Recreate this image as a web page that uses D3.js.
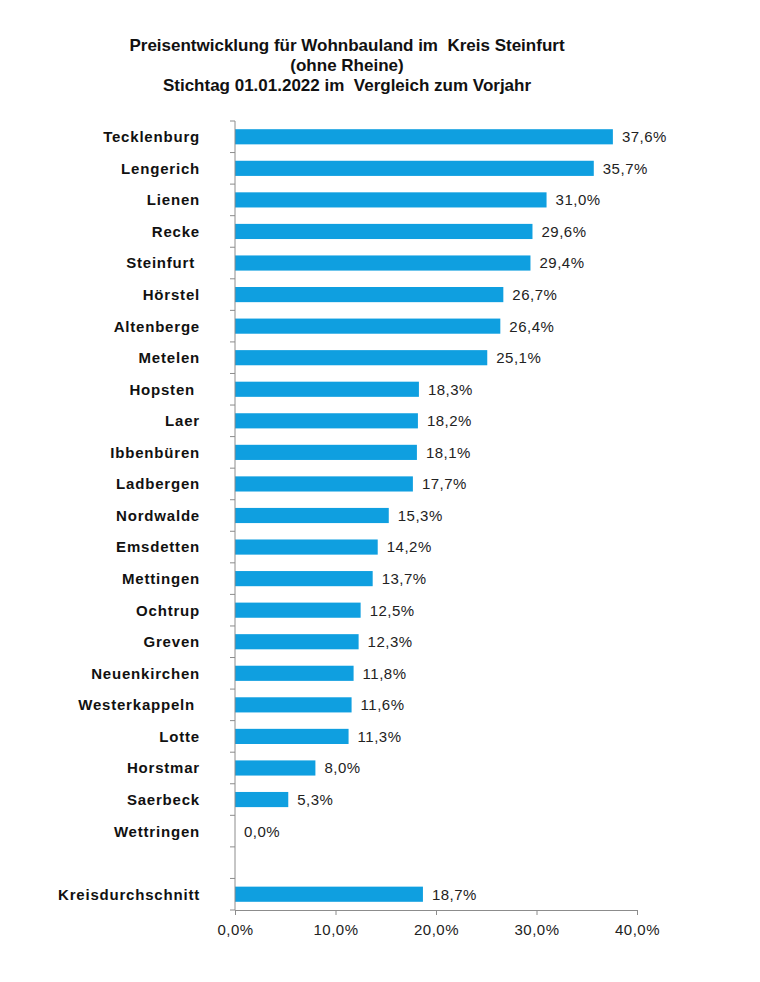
<!DOCTYPE html>
<html>
<head>
<meta charset="utf-8">
<script src="https://cdn.jsdelivr.net/npm/d3@7/dist/d3.min.js"></script>
<style>
  body { margin: 0; background: #fff; }
  svg { display: block; }
</style>
</head>
<body>
<div id="chart"></div>
<script>
// Preisentwicklung Wohnbauland, Kreis Steinfurt

var titleLines = [
    "Preisentwicklung für Wohnbauland im  Kreis Steinfurt",
    "(ohne Rheine)",
    "Stichtag 01.01.2022 im  Vergleich zum Vorjahr"
];

// some names carry a trailing blank in the source
var categories = [
    "Tecklenburg", "Lengerich", "Lienen", "Recke", "Steinfurt ", "Hörstel",
    "Altenberge", "Metelen", "Hopsten ", "Laer", "Ibbenbüren", "Ladbergen",
    "Nordwalde", "Emsdetten", "Mettingen", "Ochtrup", "Greven", "Neuenkirchen",
    "Westerkappeln ", "Lotte", "Horstmar", "Saerbeck", "Wettringen", "",
    "Kreisdurchschnitt"
];

var values = [
    37.6, 35.7, 31.0, 29.6, 29.4, 26.7,
    26.4, 25.1, 18.3, 18.2, 18.1, 17.7,
    15.3, 14.2, 13.7, 12.5, 12.3, 11.8,
    11.6, 11.3, 8.0, 5.3, 0.0, null,
    18.7
];

var xTicks = [0, 10, 20, 30, 40];

var width = 760, height = 982;
var margin = { left: 235, right: 123, top: 121, bottom: 72 };
var font = "Liberation Sans, Arial, sans-serif";

var svg = d3.select("#chart").append("svg")
    .attr("width", width)
    .attr("height", height);

// title
svg.append("g").attr("class", "title")
    .selectAll("text")
    .data(titleLines)
    .enter()
    .append("text")
    .attr("x", 347)
    .attr("y", function(d, i) {
        return 51 + i * 20;
    })
    .attr("text-anchor", "middle")
    .attr("font-family", font)
    .attr("font-size", "17px")
    .attr("font-weight", "bold")
    .attr("fill", "#111")
    .style("white-space", "pre")
    .text(function(d) { return d; });

var x = d3.scaleLinear()
    .domain([0, 40])
    .range([margin.left, width - margin.right]);

var y = d3.scaleBand()
    .domain(categories.map(function(d, i) { return i; }))
    .range([margin.top, height - margin.bottom])
    .paddingInner(0.52)
    .paddingOuter(0.26);

var fmt = function(v) {
    return d3.format(".1f")(v).replace(".", ",") + "%";
};

var rows = categories.map(function(c, i) {
    return { name: c, value: values[i], idx: i };
});
var filled = rows.filter(function(d) { return d.value !== null; });

// bars
svg.append("g").attr("class", "bars")
    .selectAll("rect")
    .data(filled)
    .enter()
    .append("rect")
    .attr("x", x(0))
    .attr("y", function(d) { return y(d.idx); })
    .attr("width", function(d) { return x(d.value) - x(0); })
    .attr("height", y.bandwidth())
    .attr("fill", "#0f9fe0");

// value labels
svg.append("g").attr("class", "values")
    .selectAll("text")
    .data(filled)
    .enter()
    .append("text")
    .attr("x", function(d) { return x(d.value) + 9; })
    .attr("y", function(d) { return y(d.idx) + y.bandwidth() / 2; })
    .attr("dy", "0.36em")
    .attr("font-family", font)
    .attr("font-size", "15px")
    .attr("letter-spacing", "0.5px")
    .attr("fill", "#222")
    .text(function(d) { return fmt(d.value); });

// category labels
svg.append("g").attr("class", "cats")
    .selectAll("text")
    .data(rows)
    .enter()
    .append("text")
    .attr("x", 200)
    .attr("y", function(d) { return y(d.idx) + y.bandwidth() / 2; })
    .attr("dy", "0.36em")
    .attr("text-anchor", "end")
    .attr("font-family", font)
    .attr("font-size", "15px")
    .attr("font-weight", "bold")
    .attr("letter-spacing", "0.8px")
    .attr("fill", "#111")
    .style("white-space", "pre")
    .text(function(d) { return d.name; });

// y axis: line with ticks at band boundaries
var step = y.step();
var bounds = d3.range(categories.length + 1).map(function(i) {
    return margin.top + i * step;
});
var axisColor = "#8c8c8c";
var yAxis = svg.append("g").attr("class", "yaxis");
yAxis.append("line")
    .attr("x1", x(0)).attr("x2", x(0))
    .attr("y1", bounds[0]).attr("y2", bounds[bounds.length - 1])
    .attr("stroke", axisColor);
yAxis.selectAll("line.tick")
    .data(bounds)
    .enter()
    .append("line")
    .attr("class", "tick")
    .attr("x1", x(0) - 5).attr("x2", x(0))
    .attr("y1", function(d) { return d; })
    .attr("y2", function(d) { return d; })
    .attr("stroke", axisColor);

// x axis
var xAxis = svg.append("g")
    .attr("transform", "translate(0," + (height - margin.bottom) + ")")
    .call(d3.axisBottom(x).tickValues(xTicks).tickSize(5).tickPadding(9).tickFormat(fmt));
xAxis.select(".domain").attr("stroke", axisColor);
xAxis.selectAll(".tick line").attr("stroke", axisColor);
xAxis.selectAll(".tick text")
    .attr("font-family", font)
    .attr("font-size", "15px")
    .attr("letter-spacing", "0.5px")
    .attr("fill", "#222");
</script>
</body>
</html>
